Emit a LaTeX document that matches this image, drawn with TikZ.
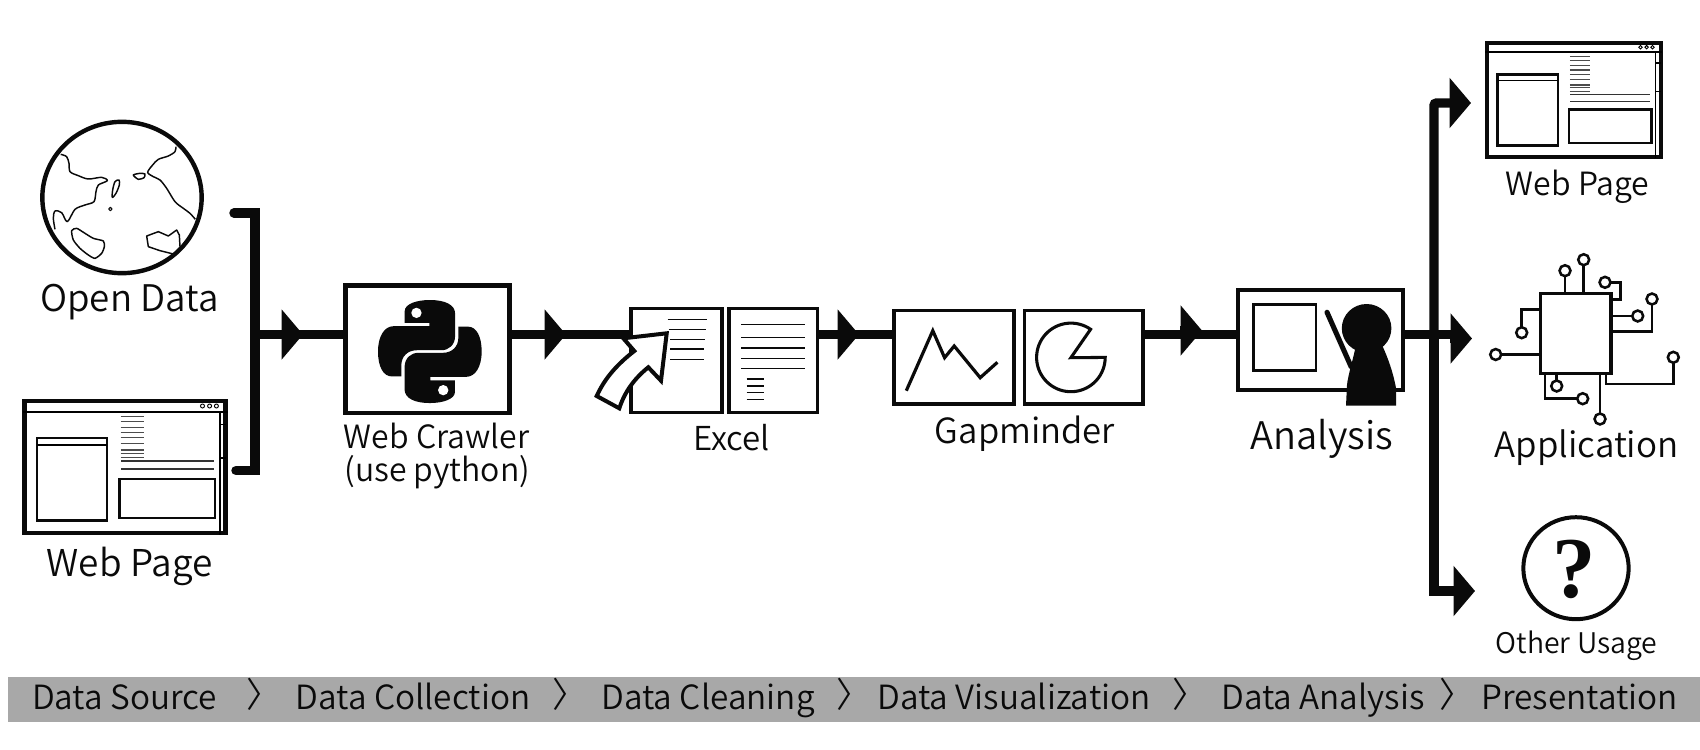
\documentclass[tikz,border=0pt]{standalone}
\usepackage{fontspec}
\setmainfont{Noto Sans CJK TC DemiLight}
\newfontfamily\qfont{Liberation Serif}
\usetikzlibrary{arrows.meta,fit,shapes.geometric}
\definecolor{ink}{HTML}{0A0A0A}
\definecolor{bandgrey}{HTML}{A8A8A8}
\newcommand{\pyhalf}{(12,0) .. controls (15.5,0) and (17.85,1.1) .. (17.85,3.2) -- (17.85,8.3) .. controls (17.85,10.5) and (16.4,11.7) .. (14.6,11.7) -- (9,11.7) .. controls (6.8,11.7) and (5.4,13.2) .. (5.4,15.2) -- (5.4,17.8) -- (3.2,17.8) .. controls (1.2,17.8) and (0,15.5) .. (0,12) .. controls (0,8.4) and (1.5,6.1) .. (3.6,6.1) -- (11.9,6.1) -- (11.9,5.3) -- (6.18,5.3) -- (6.18,2.6) .. controls (6.18,0.9) and (9,0) .. (12,0) -- cycle}
\newcommand{\webdetail}{%
  \draw[line width=1.6pt] (0,12.7) -- (204.5,12.7);
  \foreach \dx in {179.5,186.6,193.4} \draw[line width=.7pt] (\dx,7) circle[radius=2];
  \draw[line width=1pt] (197,12.7) -- (197,136);
  \draw[line width=1pt] (197,25.3) -- (203,25.3);
  \draw[line width=1pt] (197,59) -- (203,59);
  \draw[panel] (14,39) rectangle (84,121.7);
  \draw[line width=1pt] (14,46) -- (84,46);
  \draw[panel] (96.6,80) rectangle (192,119);
  \foreach \ly in {17.7,22.7,28.7,33.7,38.7,44.3,51,54.3,58.7} \draw[line width=.9pt,black!70] (97.7,\ly) -- (120.6,\ly);
  \foreach \ly in {62,70} \draw[line width=1pt,black!80] (98.4,\ly) -- (191,\ly);
}
\tikzset{
  box/.style={draw=ink,fill=white,inner sep=0pt,outer sep=0pt,line width=#1},
  box/.default=3pt,
  panel/.style={draw=ink,line width=1.9pt},
  flow/.style={draw=ink,line width=7.1pt,line cap=butt},
  headtip/.style={-{Triangle[length=16pt,width=36.75pt]}},
  pin/.style={circle,draw=ink,fill=white,line width=1.9pt,inner sep=0pt,outer sep=0pt,minimum size=8.2pt},
  wire/.style={draw=ink,line width=1.9pt},
  coast/.style={draw=ink,line width=1.1pt,line join=round},
  rule/.style={draw=ink,line width=1pt},
  lbl/.style={anchor=base,inner sep=0pt,text=ink},
}
\begin{document}
\begin{tikzpicture}[x=.75pt,y=-.75pt]
\useasboundingbox (0,0) rectangle (1700,750);
% band
\node[fill=bandgrey,inner sep=0pt,outer sep=0pt,fit={(8,677)(1700,722)}] (band) {};
\foreach \nm/\cx/\t in {b1/124.5/Data Source,b2/413/Data Collection,b3/708/Data Cleaning,b4/1014/Data Visualization,b5/1323/Data Analysis,b6/1579.5/Presentation}
  \node[lbl,font=\fontsize{25pt}{30pt}\selectfont] (\nm) at (\cx,709) {\t};
\foreach \nm/\cx in {c1/255.5,c2/561,c3/845.5,c4/1181.5,c5/1448}
  \node[lbl,font=\fontsize{26pt}{30pt}\selectfont,anchor=base] (\nm) at (\cx,707) {\makebox[0pt]{\hspace{.5em}〉}};

% Open data globe
\node[ellipse,draw=ink,line width=3.3pt,inner sep=0pt,outer sep=0pt,minimum width=119.5pt,minimum height=113.5pt] (globe) at (122,197.5) {};
\begin{scope}[shift={(20,110)},x=.25pt,y=-.25pt]
  \draw[coast] plot[smooth,tension=.5] coordinates {(122,133)(140,140)(147,160)(150,185)(175,197)(205,207)(245,202)(262,212)(235,225)(228,245)(222,275)(195,285)(165,298)(142,335)(125,308)(105,303)(100,325)(105,358)};
  \draw[coast] plot[smooth cycle,tension=.5] coordinates {(297,210)(298,225)(288,250)(277,262)(278,240)(285,215)};
  \draw[coast,line width=.8pt] (271,297) circle[radius=5];
  \draw[coast] plot[smooth cycle,tension=.4] coordinates {(340,195)(360,190)(375,192)(372,203)(355,208)};
  \draw[coast] plot[smooth,tension=.5] coordinates {(468,110)(465,125)(445,138)(415,148)(398,165)(383,187)(400,200)(420,210)(440,235)(465,275)(490,295)(510,310)(526,328)};
  \draw[coast] plot[smooth cycle,tension=.4] coordinates {(155,362)(170,355)(195,370)(220,385)(250,393)(253,410)(245,430)(225,445)(205,435)(180,415)(160,390)};
  \draw[coast] (460,432) -- (420,422) -- (385,410) -- (380,378) -- (415,365) -- (445,378) -- (470,360) -- (478,375) -- (480,410);
\end{scope}
\node[lbl,font=\fontsize{27.5pt}{30pt}\selectfont] (tOpen) at (129.5,311.7) {Open Data};

% Web page, left
\node[box=3.3pt,fit={(24.5,401)(225.5,533)}] (wl) {};
\begin{scope}[shift={(23,399)}] \webdetail \end{scope}
\node[lbl,font=\fontsize{27.7pt}{30pt}\selectfont] (tWebL) at (129.5,576.7) {Web Page};

% Bracket
\coordinate (bt) at (234,213);
\coordinate (bb) at (236,470.5);
\coordinate (bj) at (250,334.5);
\draw[flow,line cap=round,line join=miter] (bt) -- (255,213) -- (255,470.5) -- (bb);

% Web crawler
\node[box=3.3pt,fit={(345.5,285.5)(509.5,413)}] (py) {};
\begin{scope}[shift={(378,300)},x=3.24pt,y=-3.22pt]
  \fill[ink] \pyhalf;
  \fill[ink,shift={(24,24)},xscale=-1,yscale=-1] \pyhalf;
  \fill[white] (8.9,3) circle[radius=1.2];
  \fill[white] (15.1,21) circle[radius=1.2];
\end{scope}
\node[lbl,font=\fontsize{24pt}{28pt}\selectfont] (tWc) at (436.6,448.3) {Web Crawler};
\node[lbl,font=\fontsize{24pt}{28pt}\selectfont] (tPy) at (437.3,481) {(use python)};
\coordinate (h1) at (303,334.5);
\coordinate (h1b) at (285,334.5);
\draw[flow,headtip] (bj) -- (h1);
\draw[flow] (h1b) -- (h1b -| py.west);

% Excel
\node[box=2.7pt,fit={(631,308.5)(722,412.5)}] (xa) {};
\node[box=2.4pt,fit={(729,308.5)(817.5,412.5)}] (xb) {};
\coordinate (h2) at (566,334.5);
\coordinate (h2b) at (548,334.5);
\draw[flow,headtip] (py.east |- h2) -- (h2);
\draw[flow] (h2b) -- (h2b -| xa.west);
\draw[rule] (667.7,319.3) -- (706.7,319.3);
\draw[rule] (668.7,329.3) -- (706,329.3);
\draw[rule] (670,339.3) -- (705,339.3);
\draw[rule] (670,349) -- (704.3,349);
\draw[rule] (670,359.3) -- (704,359.3);
\foreach \ly in {324.3,337.3,348,358.3,368.3} \draw[rule] (741,\ly) -- (805.3,\ly);
\foreach \ly in {379,386,392.7,399.7} \draw[rule,line width=.9pt] (746.7,\ly) -- (764.3,\ly);
\draw[draw=ink,fill=white,line width=3pt,line join=miter,miter limit=4] (666.7,333.3) -- (623.3,338.3) -- (634.3,351) .. controls (615,366) and (604,380) .. (596.7,396) -- (619.3,408.3) .. controls (625,391) and (635,378) .. (648.3,367.3) -- (661,380.7) -- cycle;
\node[lbl,font=\fontsize{24.7pt}{28pt}\selectfont] (tXl) at (731.6,450.7) {Excel};

% Gapminder
\node[box=2.8pt,fit={(894,310.5)(1014,404)}] (gc) {};
\node[box=2.8pt,fit={(1024.5,310.5)(1143,404)}] (gp) {};
\coordinate (h3) at (859,334.5);
\coordinate (h3b) at (841,334.5);
\draw[flow,headtip] (xb.east |- h3) -- (h3);
\draw[flow] (h3b) -- (h3b -| gc.west);
\draw[draw=ink,line width=2.4pt,line join=miter] (906.3,390.7) -- (932.8,330.7) -- (944.6,357.7) -- (954.2,346) -- (980.2,377.7) -- (997.4,362.3);
\draw[draw=ink,line width=2.3pt,line join=miter] plot[smooth,domain=0:305,samples=60] ({1070.9+34.3*cos(\x)},{357.4+34.3*sin(\x)}) -- (1070.9,357.7) -- cycle;
\node[lbl,font=\fontsize{26pt}{30pt}\selectfont] (tGp) at (1025,443.5) {Gapminder};

% Analysis
\node[box=3pt,fit={(1238,289.5)(1402.5,390)}] (an) {};
\draw[draw=ink,line width=2pt] (1253.5,304.5) rectangle (1316,370.5);
\draw[draw=ink,line width=3.8pt,line cap=round] (1327,312.3) -- (1351.1,366.7);
\fill[ink] (1366.6,328.3) ellipse[x radius=24.8,y radius=24.3];
\fill[ink] (1356,345) .. controls (1353,360) and (1348,375) .. (1347,385) -- (1346,405.7) -- (1396.2,405.7) -- (1396,388) .. controls (1393,372) and (1388,358) .. (1382,345) -- cycle;
\node[lbl,font=\fontsize{28.5pt}{32pt}\selectfont] (tAn) at (1322,449) {Analysis};
\coordinate (h4l) at (1180,334.3);
\coordinate (h4b) at (1180,330.5);
\coordinate (h4) at (1202,330.5);
\draw[flow] (h4l -| gp.east) -- (h4l -| an.west);
\draw[flow,headtip] (h4b) -- (h4);

% Outputs
\coordinate (jn) at (1434,334.3);
\coordinate (h5) at (1471,103);
\coordinate (h7) at (1475,591);
\coordinate (h6b) at (1450,338.5);
\coordinate (h6) at (1472,338.5);
\draw[flow,headtip,rounded corners=2pt] (jn) |- (h5);
\draw[flow,headtip] (jn) |- (h7);
\draw[flow] (jn -| an.east) -- (1452,334.3);
\draw[flow,headtip] (h6b) -- (h6);

% Web page, right
\node[box=3pt,fit={(1486.5,43)(1660.5,156.5)}] (wr) {};
\begin{scope}[shift={(1485.4,41.2)},xscale=.864,yscale=.857] \webdetail \end{scope}
\node[lbl,font=\fontsize{24pt}{28pt}\selectfont] (tWebR) at (1577.5,195) {Web Page};

% Application chip
\node[box=2.3pt,fit={(1540.5,293.5)(1611,373.5)}] (chip) {};
\node[pin] (p1) at (1565,270.7) {};
\node[pin] (p2) at (1583.7,259.7) {};
\node[pin] (p3) at (1605,282.3) {};
\node[pin] (p4) at (1637.7,316) {};
\node[pin] (p5) at (1652,299) {};
\node[pin] (p6) at (1673.3,357.3) {};
\node[pin] (p7) at (1600,419) {};
\node[pin] (p8) at (1582.7,398.7) {};
\node[pin] (p9) at (1556.7,386) {};
\node[pin] (p10) at (1521.7,332.7) {};
\node[pin] (p11) at (1495.7,354.5) {};
\draw[wire] (p1) -- (p1 |- chip.north);
\draw[wire] (p2) -- (p2 |- chip.north);
\draw[wire] (p3) -- (1620.3,282.3) -- (1620.3,299.3) -- (1611,299.3);
\draw[wire] (p4) -- (p4 -| chip.east);
\draw[wire] (p5) -- (1652,331.7) -- (1611,331.7);
\draw[wire] (p6) -- (1673.3,384) -- (1606,384) -- (1606,373.5);
\draw[wire] (p7) -- (p7 |- chip.south);
\draw[wire] (p8) -- (1545,398.7) -- (1545,373.5);
\draw[wire] (p9) -- (p9 |- chip.south);
\draw[wire] (p10) -- (1521.7,309.3) -- (1540.5,309.3);
\draw[wire] (p11) -- (p11 -| chip.west);
\node[lbl,font=\fontsize{26.2pt}{30pt}\selectfont] (tApp) at (1586.5,457.8) {Application};

% Other usage
\node[ellipse,draw=ink,line width=3pt,inner sep=0pt,outer sep=0pt,minimum width=79pt,minimum height=76.5pt] (qm) at (1576,568.2) {};
\node[lbl,font=\fontsize{65pt}{66pt}\qfont\bfseries\selectfont] (tQ) at (1574,597) {?};
\node[lbl,font=\fontsize{21.3pt}{24pt}\selectfont] (tOther) at (1576.5,653) {Other Usage};
\end{tikzpicture}
\end{document}
